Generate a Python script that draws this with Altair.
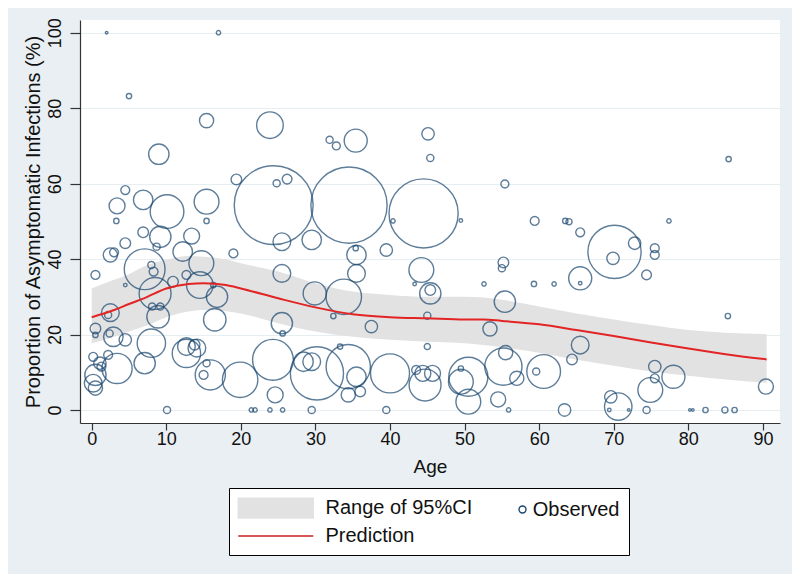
import altair as alt
import pandas as pd

# ---- observed studies: age, proportion asymptomatic (%), bubble weight ----
obs_age = [0.5, 2.5, 3.0, 4.5, 4.5, 2.5, 2.2, 0.5, 0.5, 2.9, 2.4, 4.5, 0.2, 2.2, 1.1, 1.3, 0.5, 0.2, 0.5, 3.4,
           2.0, 5.0, 4.5, 3.4, 3.3,
           6.9, 6.9, 9.0, 10.1, 9.2, 8.7, 7.1, 8.0, 8.3, 8.5, 10.9, 8.1, 9.2, 8.9, 8.0, 7.1, 10.1,
           13.4, 12.2, 14.7, 12.7, 14.5, 16.3, 16.8, 16.5, 12.7, 14.1, 12.7, 13.8, 15.4, 15.0, 15.9, 19.9,
           15.4, 17.0, 15.4, 15.4, 19.0, 19.4,
           23.9, 24.4, 24.8, 26.2, 25.5, 25.5, 25.5, 25.6, 24.3, 24.6, 21.4, 21.9, 23.9, 25.6, 28.4, 29.5,
           30.2, 29.5, 29.5, 29.9,
           31.9, 32.8, 35.4, 34.5, 35.5, 35.4, 35.5, 33.8, 32.4, 37.5, 33.3, 34.4, 35.5, 34.4, 36.0, 40.0,
           39.5, 39.5, 40.4,
           44.5, 45.1, 45.4, 44.2, 45.4, 45.4, 43.3, 45.0, 45.0, 44.7, 44.4, 45.7, 43.5, 49.5, 49.5, 50.5,
           49.5, 50.5,
           52.6, 55.4, 55.2, 55.0, 55.4, 53.4, 55.5, 55.2, 57.0, 60.6, 59.6, 54.5, 55.9, 59.4, 59.3,
           62.0, 63.5, 64.0, 65.5, 65.5, 65.5, 65.5, 64.4, 63.4, 70.1, 69.9, 69.6, 69.4, 70.6,
           72.8, 75.5, 75.5, 74.4, 77.4, 72.0, 74.4, 74.9, 75.5, 75.5, 78.0, 80.2, 80.6, 82.3, 84.9, 86.2,
           85.4, 85.3, 90.4]
obs_prop = [35.8, 41.1, 41.8, 44.2, 33.1, 25.8, 25.2, 21.6, 19.9, 19.4, 20.3, 18.6, 14.1, 14.6, 12.4, 11.5, 9.3, 7.1, 5.8, 11.0,
            100.0, 83.2, 58.3, 54.1, 50.1,
            55.7, 47.1, 67.8, 52.6, 45.9, 43.3, 37.3, 38.4, 36.7, 30.9, 34.0, 27.4, 27.4, 24.7, 17.7, 12.4, 0.0,
            46.1, 42.0, 38.9, 35.8, 33.1, 33.1, 30.0, 23.9, 16.8, 16.4, 15.0, 17.3, 12.4, 9.3, 9.3, 8.0,
            76.7, 100.0, 55.2, 50.1, 41.5, 61.1,
            75.5, 54.3, 60.1, 61.2, 44.6, 36.2, 23.0, 20.3, 13.3, 4.0, 0.0, 0.0, 0.0, 0.0, 12.8, 12.8,
            9.7, 0.0, 45.1, 30.9,
            71.6, 70.0, 71.4, 54.3, 41.1, 42.9, 36.2, 30.0, 24.9, 22.1, 16.8, 11.5, 8.8, 4.0, 4.9, 9.7,
            0.0, 42.4, 50.1,
            52.1, 73.2, 66.8, 37.1, 30.9, 31.8, 33.4, 25.0, 16.8, 6.6, 9.7, 9.7, 10.6, 50.2, 11.0, 8.8,
            7.5, 2.2,
            33.4, 59.9, 39.1, 37.6, 28.7, 21.5, 15.2, 11.5, 8.4, 10.2, 10.2, 2.8, 0.0, 50.1, 33.4,
            33.4, 50.1, 49.9, 47.1, 34.9, 33.6, 17.2, 13.4, 0.0, 41.9, 40.2, 3.5, 0.0, 0.9,
            44.2, 42.9, 41.1, 35.8, 50.1, 0.0, 0.0, 5.3, 11.5, 8.4, 8.8, 0.0, 0.0, 0.0, 0.0, 0.0,
            66.5, 24.9, 6.2]
obs_weight = [25, 64, 25, 36, 4, 100, 16, 36, 9, 121, 16, 49, 25, 25, 49, 25, 144, 100, 64, 289,
              2, 9, 25, 81, 9,
              121, 36, 132, 361, 144, 16, 529, 16, 25, 324, 36, 16, 16, 161, 256, 144, 16,
              81, 121, 196, 25, 225, 9, 144, 161, 100, 100, 256, 36, 16, 25, 289, 400,
              64, 6, 196, 9, 25, 36,
              225, 1980, 16, 30, 100, 100, 144, 9, 529, 81, 6, 6, 6, 6, 121, 100,
              900, 16, 121, 169,
              16, 20, 169, 1849, 121, 9, 100, 400, 9, 49, 9, 625, 121, 64, 36, 484,
              16, 49, 6,
              1521, 49, 16, 196, 144, 36, 4, 16, 12, 324, 81, 81, 25, 4, 9, 484,
              196, 196,
              6, 20, 36, 16, 144, 64, 64, 441, 64, 361, 16, 72, 6, 25, 9,
              6, 9, 12, 25, 169, 4, 100, 36, 49, 900, 49, 49, 4, 240,
              49, 25, 25, 30, 6, 2, 16, 196, 49, 25, 169, 2, 2, 9, 12, 9,
              9, 9, 72]

# ---- fitted prediction and its 95% CI ----
fit_age = [0, 3, 5, 7, 10, 13, 15, 18, 20, 25, 30, 35, 40, 45, 50, 52.5, 55, 60, 65, 70, 75, 80, 85, 90.5]
fit_pred = [24.6, 26.5, 28.1, 29.6, 32.2, 33.4, 33.6, 33.1, 32.2, 29.6, 27.2, 25.4, 24.6, 24.3, 24.0, 24.0,
            23.6, 22.7, 21.2, 19.6, 17.9, 16.3, 14.8, 13.4]
fit_upper = [32.2, 34.5, 36.0, 38.0, 39.8, 40.8, 40.6, 39.9, 38.9, 36.7, 33.6, 31.4, 30.5, 30.0, 30.0, 29.8,
             29.2, 27.4, 25.6, 24.0, 22.5, 21.2, 20.5, 20.1]
fit_lower = [17.7, 19.4, 20.8, 22.1, 24.6, 26.1, 26.5, 26.2, 25.6, 23.0, 20.8, 19.4, 18.6, 18.1, 17.7, 17.2,
             16.6, 15.2, 13.3, 11.7, 10.2, 9.1, 8.1, 7.2]

# legend entries (filled column-wise: Range, Prediction | Observed)
series_names = ["Range of 95%CI", "Prediction", "Observed"]
series_fills = ["#e2e2e2", "transparent", "transparent"]
x_ticks = [0, 10, 20, 30, 40, 50, 60, 70, 80, 90]
y_ticks = [0, 20, 40, 60, 80, 100]

BAND = "#e2e2e2"
NAVY = "#1a476f"
RED = "#e32424"

obs = pd.DataFrame({"age": obs_age, "prop": obs_prop, "weight": obs_weight})
fit = pd.DataFrame({"age": fit_age, "pred": fit_pred, "lo": fit_lower, "hi": fit_upper,
                    "series": series_names[0]})

FONT = "Liberation Sans"
xs = alt.Scale(domain=[-1.57, 92.29], nice=False, zero=False)
ys = alt.Scale(domain=[-3.45, 103.37], nice=False, zero=False)

shape_expr = ("datum.value === 'Range of 95%CI' ? 'M-3.75,-1H3.75V1H-3.75Z' : "
              "datum.value === 'Prediction' ? 'M-3.75,0H3.75' : "
              "'M1.525,0A0.35,0.35 0 1,1 0.825,0A0.35,0.35 0 1,1 1.525,0Z'")
stroke_expr = ("datum.value === 'Range of 95%CI' ? '" + BAND + "' : "
               "datum.value === 'Prediction' ? '#c81e1e' : '" + NAVY + "'")
label_offset_expr = "datum.value === 'Observed' ? 11 : 38.75"

legend = alt.Legend(
    title=None, orient="none", legendX=149, legendY=468, columns=2,
    strokeColor="#000000", fillColor="#ffffff", padding=9, cornerRadius=0,
    labelFont=FONT, labelFontSize=20, labelColor="#111111", labelLimit=400,
    symbolSize=400, symbolOffset=26.75, labelOffset={"expr": label_offset_expr},
    symbolType={"expr": shape_expr}, symbolStrokeColor={"expr": stroke_expr},
    symbolStrokeWidth=1.4, symbolOpacity=1,
    rowPadding=4, columnPadding=0, gridAlign="each",
)

x_axis = alt.Axis(values=x_ticks, title="Age", grid=False, tickSize=7, labelPadding=0,
                  titlePadding=9, labelFontSize=18, titleFontSize=19)
y_axis = alt.Axis(values=y_ticks, title="Proportion of Asymptomatic Infections (%)", grid=True,
                  tickSize=10, labelAngle=270, labelAlign="center", labelBaseline="bottom",
                  labelPadding=6, titlePadding=3, labelFontSize=18, titleFontSize=20)

band = alt.Chart(fit).mark_area(interpolate="monotone").encode(
    x=alt.X("age:Q", scale=xs, axis=x_axis),
    y=alt.Y("hi:Q", scale=ys, axis=y_axis),
    y2="lo:Q",
    fill=alt.Fill("series:N", scale=alt.Scale(domain=series_names, range=series_fills), legend=legend),
)

points = alt.Chart(obs).mark_point(filled=False, stroke=NAVY, strokeWidth=1.4, clip=True).encode(
    x=alt.X("age:Q", scale=xs),
    y=alt.Y("prop:Q", scale=ys),
    size=alt.Size("weight:Q", scale=alt.Scale(type="linear", domain=[0, 2000], range=[0, 6283]), legend=None),
)

line = alt.Chart(fit).mark_line(interpolate="monotone", stroke=RED, strokeWidth=2).encode(
    x=alt.X("age:Q", scale=xs),
    y=alt.Y("pred:Q", scale=ys),
)

chart = alt.layer(band, points, line).properties(
    width=700, height=403,
    autosize=alt.AutoSizeParams(type="none"),
    padding={"left": 72, "top": 12, "right": 12, "bottom": 151},
    background="#e9eff2",
).configure_view(
    fill="#ffffff", stroke=None,
).configure_axis(
    labelFont=FONT, titleFont=FONT, labelColor="#111111", titleColor="#111111",
    titleFontWeight="normal", domainColor="#333333", tickColor="#333333",
    domainWidth=1.2, tickWidth=1.2, gridColor="#e6eef1", gridWidth=1.2,
)

chart.save("out.html", embed_options={"renderer": "svg", "actions": False})
